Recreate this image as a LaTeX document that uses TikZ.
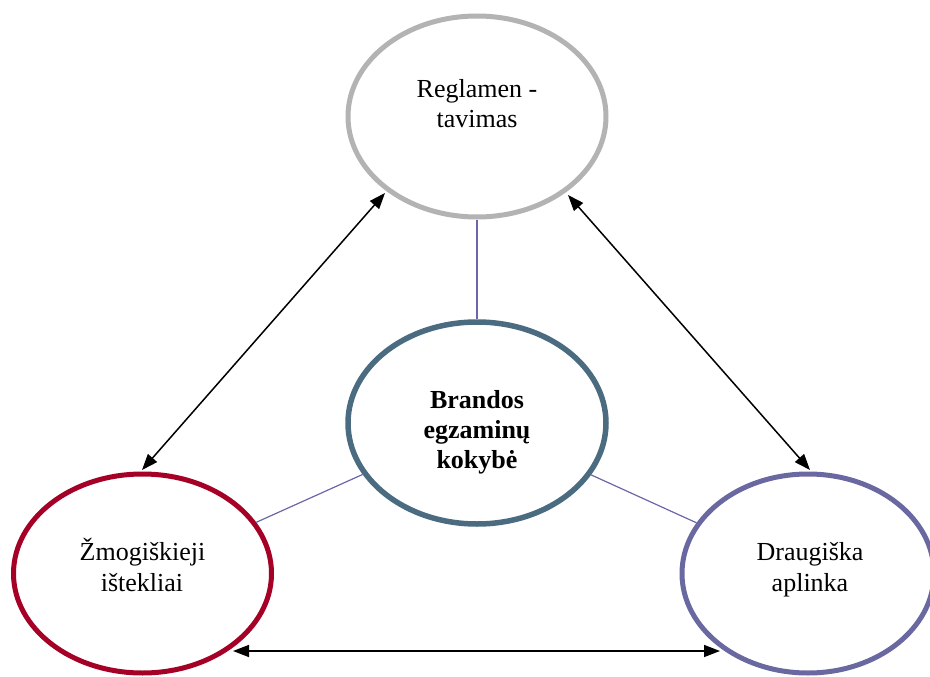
\documentclass[tikz,border=0pt]{standalone}
\usepackage{fontspec}
\setmainfont{Liberation Serif}
\usetikzlibrary{shapes.geometric,arrows.meta}
\definecolor{cgray}{HTML}{B3B3B3}
\definecolor{csteel}{HTML}{4A6B80}
\definecolor{cred}{HTML}{A50026}
\definecolor{cpurple}{HTML}{6A68A0}
\definecolor{cthin}{HTML}{6A66A8}
\tikzset{
  ell/.style={ellipse, inner sep=0pt, line width=5pt, minimum width=258pt, minimum height=201pt, fill=white},
  txt/.style={anchor=base, inner sep=0pt, font=\fontsize{26}{31}\selectfont},
  btxt/.style={txt, font=\fontsize{26}{31}\selectfont\bfseries},
  thin/.style={draw=cthin, line width=1.2pt},
  dbl/.style={draw=black, line width=1.5pt, {Triangle[length=16pt,width=12pt]}-{Triangle[length=16pt,width=12pt]}}
}
\begin{document}
\begin{tikzpicture}[x=1pt,y=-1pt]
\useasboundingbox (0,0) rectangle (930,677);
\node[ell, draw=cgray] (top) at (477,116.5) {};
\node[ell, draw=csteel, line width=5.5pt, minimum height=202pt] (center) at (477,423) {};
\node[ell, draw=cred, minimum height=199pt] (left) at (142.5,573.5) {};
\node[ell, draw=cpurple, minimum width=252pt, minimum height=199pt] (right) at (808,573.5) {};

\draw[thin] (top) -- (center);
\draw[thin] (center) -- (left);
\draw[thin] (center) -- (right);

\coordinate (a1) at (385,193);
\coordinate (a2) at (142,470);
\coordinate (b1) at (568,195);
\coordinate (b2) at (810,470);
\coordinate (c1) at (233,651);
\coordinate (c2) at (720,651);
\draw[dbl] (a1) -- (a2);
\draw[dbl] (b1) -- (b2);
\draw[dbl] (c1) -- (c2);

\node[txt] (t1) at (477,98) {Reglamen -};
\node[txt] (t2) at (477,128) {tavimas};
\node[btxt] (m1) at (477,408.3) {Brandos};
\node[btxt] (m2) at (477,438.3) {egzaminų};
\node[btxt] (m3) at (477,468.3) {kokybė};
\node[txt] (l1) at (142.5,560.7) {Žmogiškieji};
\node[txt] (l2) at (142,591.7) {ištekliai};
\node[txt] (r1) at (810,560.5) {Draugiška};
\node[txt] (r2) at (810,591.7) {aplinka};
\end{tikzpicture}
\end{document}
